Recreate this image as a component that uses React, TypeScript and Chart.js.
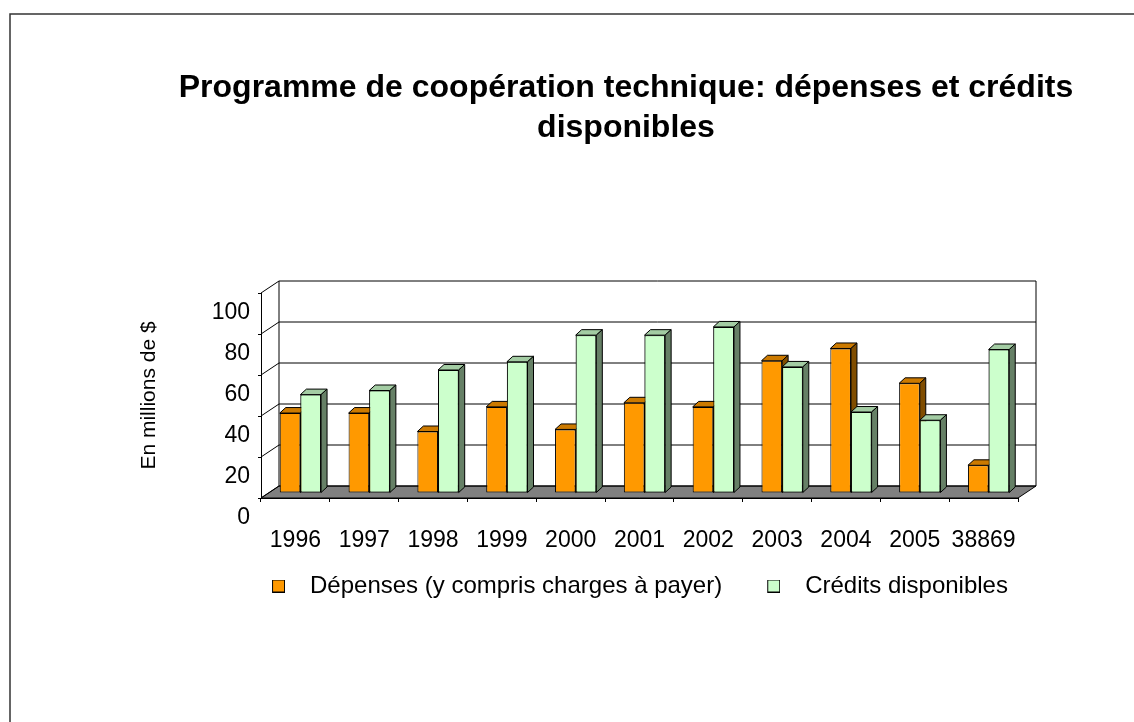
import React, { useEffect, useRef } from 'react';
import { Chart, registerables } from 'chart.js';

Chart.register(...registerables);

const categories = ['1996', '1997', '1998', '1999', '2000', '2001', '2002', '2003', '2004', '2005', '38869'];
const depensesValues = [39, 39, 30, 42, 31, 44, 42, 64.5, 70.5, 53.5, 13.5];
const creditsValues = [48, 50, 60, 64, 77, 77, 81, 61.5, 39.5, 35.5, 70];
const yTickValues = [0, 20, 40, 60, 80, 100];
const seriesLabels = ['Dépenses (y compris charges à payer)', 'Crédits disponibles'];
const titleLines = ['Programme de coopération technique: dépenses et crédits', 'disponibles'];
const yAxisTitle = 'En millions de $';

const FONT = "'Liberation Sans', Arial, Helvetica, sans-serif";

const depColors = { front: '#FF9900', top: '#CC7A00', side: '#804D00' };
const credColors = { front: '#CCFFCC', top: '#A3CCA3', side: '#668066' };

const WALL_DX = 18;
const WALL_DY = -12;
const BAR_SHIFT_X = 5;
const BAR_SHIFT_Y = -5;
const BAR_DX = 6;
const BAR_DY = -5.5;

function line(ctx: CanvasRenderingContext2D, x1: number, y1: number, x2: number, y2: number) {
  ctx.beginPath();
  ctx.moveTo(x1, y1);
  ctx.lineTo(x2, y2);
  ctx.stroke();
}

function drawFaces(ctx: CanvasRenderingContext2D, el: any, c: { top: string; side: string }) {
  const { x, y, base, width } = el.getProps(['x', 'y', 'base', 'width'], true);
  const l = x - width / 2;
  const r = x + width / 2;
  ctx.save();
  ctx.lineWidth = 1;
  ctx.strokeStyle = '#000';
  ctx.lineJoin = 'miter';
  ctx.beginPath();
  ctx.moveTo(l, y);
  ctx.lineTo(l + BAR_DX, y + BAR_DY);
  ctx.lineTo(r + BAR_DX, y + BAR_DY);
  ctx.lineTo(r, y);
  ctx.closePath();
  ctx.fillStyle = c.top;
  ctx.fill();
  ctx.stroke();
  ctx.beginPath();
  ctx.moveTo(r, y);
  ctx.lineTo(r + BAR_DX, y + BAR_DY);
  ctx.lineTo(r + BAR_DX, base + BAR_DY);
  ctx.lineTo(r, base);
  ctx.closePath();
  ctx.fillStyle = c.side;
  ctx.fill();
  ctx.stroke();
  ctx.restore();
}

const threeDPlugin = {
  id: 'threeD',
  beforeDraw(chart: any) {
    const ctx: CanvasRenderingContext2D = chart.ctx;
    const { left, right } = chart.chartArea;
    const ys = chart.scales.y;
    ctx.save();
    ctx.strokeStyle = '#333';
    ctx.lineWidth = 1.5;
    ctx.beginPath();
    ctx.moveTo(10, chart.height);
    ctx.lineTo(10, 14);
    ctx.lineTo(chart.width, 14);
    ctx.stroke();

    const y0 = ys.getPixelForValue(0);
    const yTop = ys.getPixelForValue(100);
    ctx.fillStyle = '#808080';
    ctx.beginPath();
    ctx.moveTo(left, y0);
    ctx.lineTo(right, y0);
    ctx.lineTo(right + WALL_DX, y0 + WALL_DY);
    ctx.lineTo(left + WALL_DX, y0 + WALL_DY);
    ctx.closePath();
    ctx.fill();
    ctx.strokeStyle = '#000';
    ctx.lineWidth = 1;
    ctx.stroke();
    for (const v of yTickValues) {
      const yf = ys.getPixelForValue(v);
      const yb = yf + WALL_DY;
      line(ctx, left + WALL_DX, yb, right + WALL_DX, yb);
      line(ctx, left, yf, left + WALL_DX, yb);
    }
    line(ctx, left + WALL_DX, yTop + WALL_DY, left + WALL_DX, y0 + WALL_DY);
    line(ctx, right + WALL_DX, yTop + WALL_DY, right + WALL_DX, y0 + WALL_DY);
    ctx.restore();
  },
  beforeDatasetsDraw(chart: any) {
    chart.ctx.save();
    chart.ctx.translate(BAR_SHIFT_X, BAR_SHIFT_Y);
  },
  afterDatasetsDraw(chart: any) {
    const ctx: CanvasRenderingContext2D = chart.ctx;
    const m0 = chart.getDatasetMeta(0);
    const m1 = chart.getDatasetMeta(1);
    for (let i = 0; i < categories.length; i++) {
      const a = m0.data[i];
      const b = m1.data[i];
      if (a) drawFaces(ctx, a, depColors);
      if (b) {
        b.draw(ctx);
        drawFaces(ctx, b, credColors);
      }
    }
    ctx.restore();
  },
};

function makeLegendImage(color: string): HTMLCanvasElement {
  const c = document.createElement('canvas');
  c.width = 28;
  c.height = 13;
  const g = c.getContext('2d')!;
  g.fillStyle = color;
  g.fillRect(15, 0, 13, 13);
  g.strokeStyle = '#000';
  g.lineWidth = 1;
  g.strokeRect(15.5, 0.5, 12, 12);
  return c;
}

export default function App() {
  const ref = useRef<HTMLCanvasElement>(null);

  useEffect(() => {
    const canvas = ref.current;
    if (!canvas) return;
    Chart.defaults.font.family = FONT;
    Chart.defaults.color = '#000';
    const legendImages = [makeLegendImage(depColors.front), makeLegendImage(credColors.front)];

    const chart = new Chart(canvas, {
      type: 'bar',
      data: {
        labels: categories,
        datasets: [
          {
            label: seriesLabels[0],
            data: depensesValues,
            backgroundColor: depColors.front,
            borderColor: '#000',
            borderWidth: 1,
            borderSkipped: false,
            categoryPercentage: 0.6,
            barPercentage: 1,
            clip: false,
          } as any,
          {
            label: seriesLabels[1],
            data: creditsValues,
            backgroundColor: credColors.front,
            borderColor: '#000',
            borderWidth: 1,
            borderSkipped: false,
            categoryPercentage: 0.6,
            barPercentage: 1,
            clip: false,
          } as any,
        ],
      },
      options: {
        responsive: false,
        animation: false,
        devicePixelRatio: 1,
        layout: { padding: { left: 130, right: 12, top: 0, bottom: 114 } },
        scales: {
          x: {
            type: 'category',
            offset: true,
            grid: { display: true, drawOnChartArea: false, drawTicks: true, tickLength: 4, color: '#000', offset: true },
            border: { display: true, color: '#000', width: 1 },
            ticks: { font: { size: 23 }, color: '#000', padding: 25, maxRotation: 0, minRotation: 0, autoSkip: false },
            afterFit: (s: any) => { s.height = 59; },
          },
          y: {
            type: 'linear',
            position: 'left',
            min: 0,
            max: 100,
            afterBuildTicks: (s: any) => { s.ticks = yTickValues.map((v) => ({ value: v })); },
            grid: { display: true, drawOnChartArea: false, drawTicks: true, tickLength: 3, color: '#000' },
            border: { display: true, color: '#000', width: 1 },
            ticks: { font: { size: 23 }, color: '#000', padding: 8, labelOffset: 20 },
            title: { display: true, text: yAxisTitle, font: { size: 21 }, color: '#000', padding: { top: 7, bottom: 0 } },
            afterFit: (s: any) => { s.width = 131; },
          },
          y2: {
            type: 'linear',
            position: 'right',
            display: true,
            grid: { display: false },
            border: { display: false },
            ticks: { display: false },
            afterFit: (s: any) => { s.width = 104; },
          },
        },
        plugins: {
          title: {
            display: true,
            text: titleLines,
            font: { size: 32, weight: 'bold', lineHeight: 1.25 },
            color: '#000',
            padding: { top: 68, bottom: 145 },
            fullSize: true,
          },
          legend: {
            display: true,
            position: 'bottom',
            fullSize: true,
            align: 'center',
            labels: {
              usePointStyle: true,
              pointStyleWidth: 54,
              font: { size: 24 },
              color: '#000',
              padding: 17,
              generateLabels: () =>
                seriesLabels.map((t, i) => ({
                  text: t,
                  fillStyle: i === 0 ? depColors.front : credColors.front,
                  strokeStyle: '#000',
                  lineWidth: 1,
                  hidden: false,
                  datasetIndex: i,
                  pointStyle: legendImages[i],
                })),
            },
          },
          tooltip: { enabled: false },
        },
      } as any,
      plugins: [threeDPlugin],
    });

    return () => chart.destroy();
  }, []);

  return (
    <div style={{ position: 'fixed', left: 0, top: 0, width: 1134, height: 722, background: '#fff' }}>
      <canvas ref={ref} width={1134} height={722} style={{ display: 'block', width: 1134, height: 722 }} />
    </div>
  );
}
